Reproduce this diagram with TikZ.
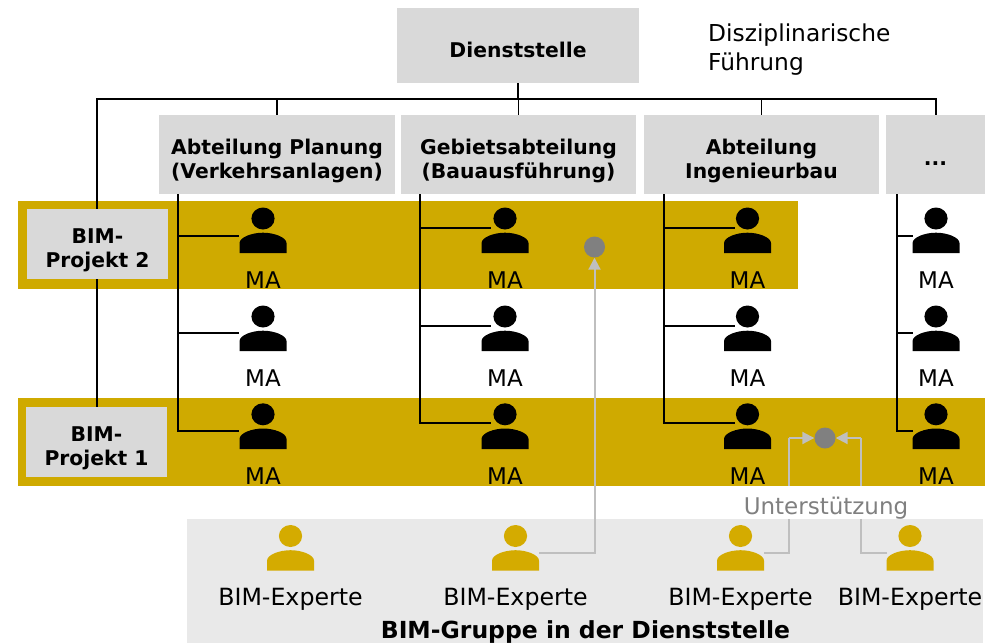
\documentclass[tikz,border=0pt]{standalone}
\usepackage{fontspec}
\setmainfont{DejaVu Sans}
\usetikzlibrary{arrows.meta}
\definecolor{goldband}{HTML}{CFAA00}
\definecolor{goldman}{HTML}{D4AB00}
\definecolor{boxgrey}{HTML}{D9D9D9}
\definecolor{panelgrey}{HTML}{E9E9E9}
\definecolor{dotgrey}{HTML}{808080}
\definecolor{linkgrey}{HTML}{BFBFBF}
\tikzset{
  x=1pt,y=-1pt,
  band/.style={fill=goldband,draw=none},
  orgbox/.style={fill=boxgrey,draw=none,inner sep=0pt},
  orgtext/.style={inner sep=0pt,align=center,yshift=-#1,font=\fontsize{20.3}{24}\selectfont\bfseries},
  orgline/.style={draw=black,line width=1.8pt},
  suplink/.style={draw=linkgrey,line width=2pt,-{Triangle[length=12pt,width=12pt]}},
  suplinkplain/.style={draw=linkgrey,line width=2pt},
  dot/.style={circle,fill=dotgrey,draw=none,minimum size=21pt,inner sep=0pt},
  personlabel/.style={anchor=base,inner sep=0pt,font=\fontsize{23}{27}\selectfont},
  expertlabel/.style={anchor=base,inner sep=0pt,font=\fontsize{23.7}{27}\selectfont},
  personspot/.style={inner sep=0pt,minimum width=47pt,minimum height=45pt,draw=none},
}
% name, centre x, bottom y of the body, colour
\newcommand{\personicon}[4]{%
  \node[personspot] (#1) at (#2,#3-22.5) {};
  \fill[#4,shift={(#2,#3)}] (-23.5,0) -- (-23.5,-10) .. controls (-23.5,-16) and (-11,-20.5) .. (0,-20.5)
     .. controls (11,-20.5) and (23.5,-16) .. (23.5,-10) -- (23.5,0) -- cycle;
  \fill[#4,shift={(#2,#3)}] (0,-34.7) ellipse [x radius=11.6pt,y radius=11pt];
}
\begin{document}
\begin{tikzpicture}
\useasboundingbox (0,0) rectangle (992,643);
% bands and panel
\fill[band] (18,201) rectangle (798,289);
\fill[band] (18,398) rectangle (985,486);
\fill[panelgrey] (187,519) rectangle (983,643);
% boxes
\node[orgbox,minimum width=242pt,minimum height=75pt,label={[orgtext=4pt]center:Dienststelle}] (dienst) at (518,45.5) {};
\node[orgbox,minimum width=236pt,minimum height=79pt,label={[orgtext=6pt]center:{Abteilung Planung\\(Verkehrsanlagen)}}] (boxA) at (277,154.5) {};
\node[orgbox,minimum width=235pt,minimum height=79pt,label={[orgtext=6pt]center:{Gebietsabteilung\\(Bauausführung)}}] (boxG) at (518.5,154.5) {};
\node[orgbox,minimum width=235pt,minimum height=79pt,label={[orgtext=6pt]center:{Abteilung\\Ingenieurbau}}] (boxI) at (761.5,154.5) {};
\node[orgbox,minimum width=99pt,minimum height=79pt,label={[orgtext=6pt]center:{...\vphantom{Ag}}}] (boxX) at (935.5,154.5) {};
\node[orgbox,minimum width=141pt,minimum height=70pt,label={[orgtext=6pt]center:{BIM-\\Projekt 2}}] (bim2) at (97.5,244) {};
\node[orgbox,minimum width=141pt,minimum height=70pt,label={[orgtext=6pt]center:{BIM-\\Projekt 1}}] (bim1) at (96.5,442) {};
% persons
\foreach \n/\cx in {A/263,G/505,I/747.5,X/936}{
  \personicon{p\n1}{\cx}{253.2}{black}
  \personicon{p\n2}{\cx}{351.2}{black}
  \personicon{p\n3}{\cx}{449}{black}
  \node[personlabel] (l\n1) at (\cx,288) {MA};
  \node[personlabel] (l\n2) at (\cx,386.5) {MA};
  \node[personlabel] (l\n3) at (\cx,484) {MA};
}
\foreach \n/\cx in {1/290.5,2/515.5,3/740.5,4/910}{
  \personicon{e\n}{\cx}{570.7}{goldman}
  \node[expertlabel] (t\n) at (\cx,605) {BIM-Experte};
}
% organisation lines
\coordinate (bus) at (518,99);
\coordinate (busL) at (97,99);
\coordinate (busR) at (936,99);
\draw[orgline] (bim2.north -| busL) -- (busL) -- (busR) -- (boxX.north -| busR);
\draw[orgline] (dienst.south) -- (bus);
\draw[orgline] (boxA.north) -- (boxA.north |- bus);
\draw[orgline] (boxG.north) -- (boxG.north |- bus);
\draw[orgline] (boxI.north) -- (boxI.north |- bus);
\draw[orgline] (bim2.south -| busL) -- (bim1.north -| busL);
% column lines
\coordinate (vA) at (178,194);
\coordinate (vG) at (420,194);
\coordinate (vI) at (664,194);
\coordinate (vX) at (897,194);
\coordinate (hA1) at (239,236); \coordinate (hA2) at (239,333); \coordinate (hA3) at (239,431);
\coordinate (hG1) at (491,228); \coordinate (hG2) at (491,326); \coordinate (hG3) at (491,423);
\coordinate (hI1) at (735,228); \coordinate (hI2) at (735,326); \coordinate (hI3) at (735,423);
\coordinate (hX1) at (913,236); \coordinate (hX2) at (913,333); \coordinate (hX3) at (913,431);
\foreach \n in {A,G,I,X}{
  \draw[orgline] (v\n) |- (h\n3);
  \draw[orgline] (v\n |- h\n1) -- (h\n1);
  \draw[orgline] (v\n |- h\n2) -- (h\n2);
}
% support links
\node[dot] (d1) at (594.5,247) {};
\node[dot] (d2) at (825,438) {};
\coordinate (s2) at (539,553);
\coordinate (s3) at (764,553);
\coordinate (s4) at (887,553);
\coordinate (k3) at (789,438);
\coordinate (k4) at (861,438);
\draw[suplink] (s2) -| (d1.south);
\draw[suplinkplain] (s3) -| (k3);
\draw[suplinkplain] (s4) -| (k4);
\draw[suplink] (k3) -- (d2.west);
\draw[suplink] (k4) -- (d2.east);
\node[fill=white,inner sep=0pt,minimum width=190pt,minimum height=33pt] (sup) at (826,502.5) {};
\node[anchor=base,text=dotgrey,inner sep=0pt,font=\fontsize{23}{27}\selectfont] (suptext) at (826,514) {Unterstützung};
% titles
\node[anchor=base west,inner sep=0pt,align=left,font=\fontsize{23.3}{29}\selectfont] (disc) at (708,70) {Disziplinarische\\Führung};
\node[anchor=base,inner sep=0pt,font=\fontsize{23.5}{27}\selectfont\bfseries] (grp) at (585.5,638) {BIM-Gruppe in der Dienststelle};
\end{tikzpicture}
\end{document}
